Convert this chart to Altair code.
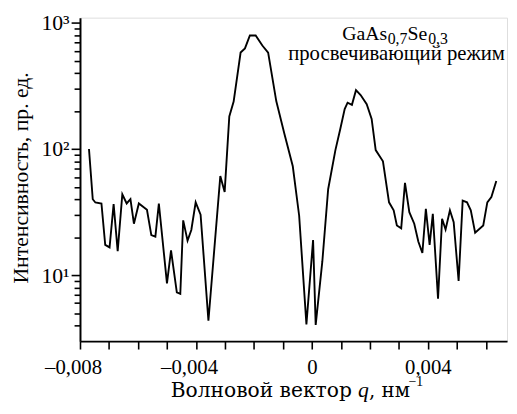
import altair as alt
import pandas as pd

# wave vector q (nm^-1) and intensity (arb. units)
q = [-0.00769, -0.00756, -0.00747, -0.00726, -0.00713, -0.00698, -0.00684, -0.00670,
     -0.00654, -0.00639, -0.00626, -0.00614, -0.00597, -0.00569, -0.00554, -0.00540,
     -0.00528, -0.00500, -0.00486, -0.00466, -0.00454, -0.00444, -0.00429, -0.00416,
     -0.00401, -0.00384, -0.00357, -0.00316, -0.00301, -0.00285, -0.00270, -0.00246,
     -0.00231, -0.00214, -0.00194, -0.00171, -0.00151, -0.00123, -0.00095, -0.00066,
     -0.00044, -0.00019, 0.00004, 0.00013, 0.00036, 0.00056, 0.00081, 0.00098,
     0.00113, 0.00123, 0.00138, 0.00152, 0.00168, 0.00189, 0.00206, 0.00220,
     0.00245, 0.00266, 0.00282, 0.00293, 0.00308, 0.00321, 0.00336, 0.00353,
     0.00367, 0.00381, 0.00393, 0.00406, 0.00417, 0.00435, 0.00449, 0.00461,
     0.00476, 0.00489, 0.00506, 0.00520, 0.00535, 0.00548, 0.00563, 0.00591,
     0.00605, 0.00619, 0.00636]
intensity = [100, 40, 37.7, 37, 17.4, 16.6, 36.6, 15.5,
             43.8, 37, 40, 25.6, 37, 33, 20.8, 20.2,
             37, 8.6, 15.7, 7.3, 7.1, 27.2, 18.8, 22.8,
             37.8, 30.2, 4.35, 61, 45.7, 181, 238, 582,
             628, 795, 795, 662, 580, 240, 132, 73,
             29.6, 4.07, 19, 4.03, 12.9, 48, 98, 145,
             207, 233, 224, 293, 268, 227, 173, 98,
             80, 37.8, 32.7, 24.8, 23.5, 54, 31.6, 25.6,
             18.5, 15, 33.6, 17.4, 30.6, 6.5, 28, 23,
             32.7, 26.3, 9.0, 39, 37.8, 32.7, 21.7, 24.8,
             37.8, 41.6, 55.7]

x_ticks = [-0.008, -0.007, -0.006, -0.005, -0.004, -0.003, -0.002, -0.001,
           0.0, 0.001, 0.002, 0.003, 0.004, 0.005, 0.006]
y_ticks = [4, 5, 6, 7, 8, 9, 10, 20, 30, 40, 50, 60, 70, 80, 90,
           100, 200, 300, 400, 500, 600, 700, 800, 900, 1000]

x_title_parts = ["Волновой вектор", "q", ", нм", "−1"]
y_title = "Интенсивность, пр. ед."
compound = ["GaAs", "0,7", "Se", "0,3"]
mode_text = "просвечивающий режим"

FONT = "'Liberation Serif', 'Times New Roman', serif"
WIDE = "'DejaVu Serif', serif"
W, H = 433, 328

df = pd.DataFrame({"q": q, "I": intensity})

line = alt.Chart(df).mark_line(color="black", strokeWidth=1.9).encode(
    x=alt.X("q:Q",
            scale=alt.Scale(domain=[-0.008, 0.00673], nice=False, zero=False),
            axis=alt.Axis(
                values=x_ticks, title=None, grid=False,
                labelExpr="round(datum.value*1000) % 4 == 0 ? (datum.value == 0 ? '0' : (datum.value < 0 ? '–' : '') + replace(format(abs(datum.value), '.3f'), '.', ',')) : ''",
                labelOffset={"condition": {"test": "datum.value < 0", "value": -7}, "value": 0},
                tickSize=8, tickWidth=1.6, tickColor="black",
                domainColor="black", domainWidth=2,
                labelFont=FONT, labelFontSize=21, labelColor="black", labelPadding=8,
                labelFlush=False, labelOverlap=False,
            )),
    y=alt.Y("I:Q",
            scale=alt.Scale(type="log", domain=[3, 1100], nice=False),
            axis=alt.Axis(
                values=y_ticks, title=y_title, grid=False,
                labelExpr="datum.value == 10 ? '10¹' : datum.value == 100 ? '10²' : datum.value == 1000 ? '10³' : ''",
                tickSize={"condition": {"test": "datum.value == 10 || datum.value == 100 || datum.value == 1000", "value": 9}, "value": 6},
                tickWidth=1.6, tickColor="black",
                domainColor="black", domainWidth=2,
                labelFont=FONT, labelFontSize=22, labelColor="black", labelPadding=2,
                labelFlush=False, labelOverlap=False, labelBaseline="middle",
                titleFont=FONT, titleFontSize=22, titleFontWeight="normal", titleColor="black",
                titleX=-53, titleY=H / 2 - 2, titleBaseline="alphabetic", titleAlign="center",
                titleAngle=270,
            )),
)


def label(text, xpx, ypx, size, align="left", style="normal", font=FONT):
    return alt.Chart(pd.DataFrame({"t": [text]})).mark_text(
        font=font, fontSize=size, color="black", align=align, baseline="alphabetic",
        fontStyle=style,
    ).encode(text="t:N", x=alt.value(xpx), y=alt.value(ypx))


annot = [
    label(compound[0], 266, 23, 20),
    label(compound[1], 312, 27, 16),
    label(compound[2], 332, 23, 20),
    label(compound[3], 353, 27, 16),
    label(mode_text, 321, 43, 21, align="center"),
    # x-axis title pieces
    label(x_title_parts[0], 92, 385, 20.5, font=WIDE),
    label(x_title_parts[1], 282, 385, 22, style="italic"),
    label(x_title_parts[2], 293, 385, 20, font=WIDE),
    label(x_title_parts[3], 333, 374, 14),
]

chart = alt.layer(line, *annot).properties(
    width=W, height=H,
    autosize=alt.AutoSizeParams(type="none"),
    padding={"left": 73, "top": 7, "right": 2, "bottom": 64},
).configure_view(stroke=None).configure(font=FONT)

chart.save("out.html", embed_options={"renderer": "svg", "actions": False})
